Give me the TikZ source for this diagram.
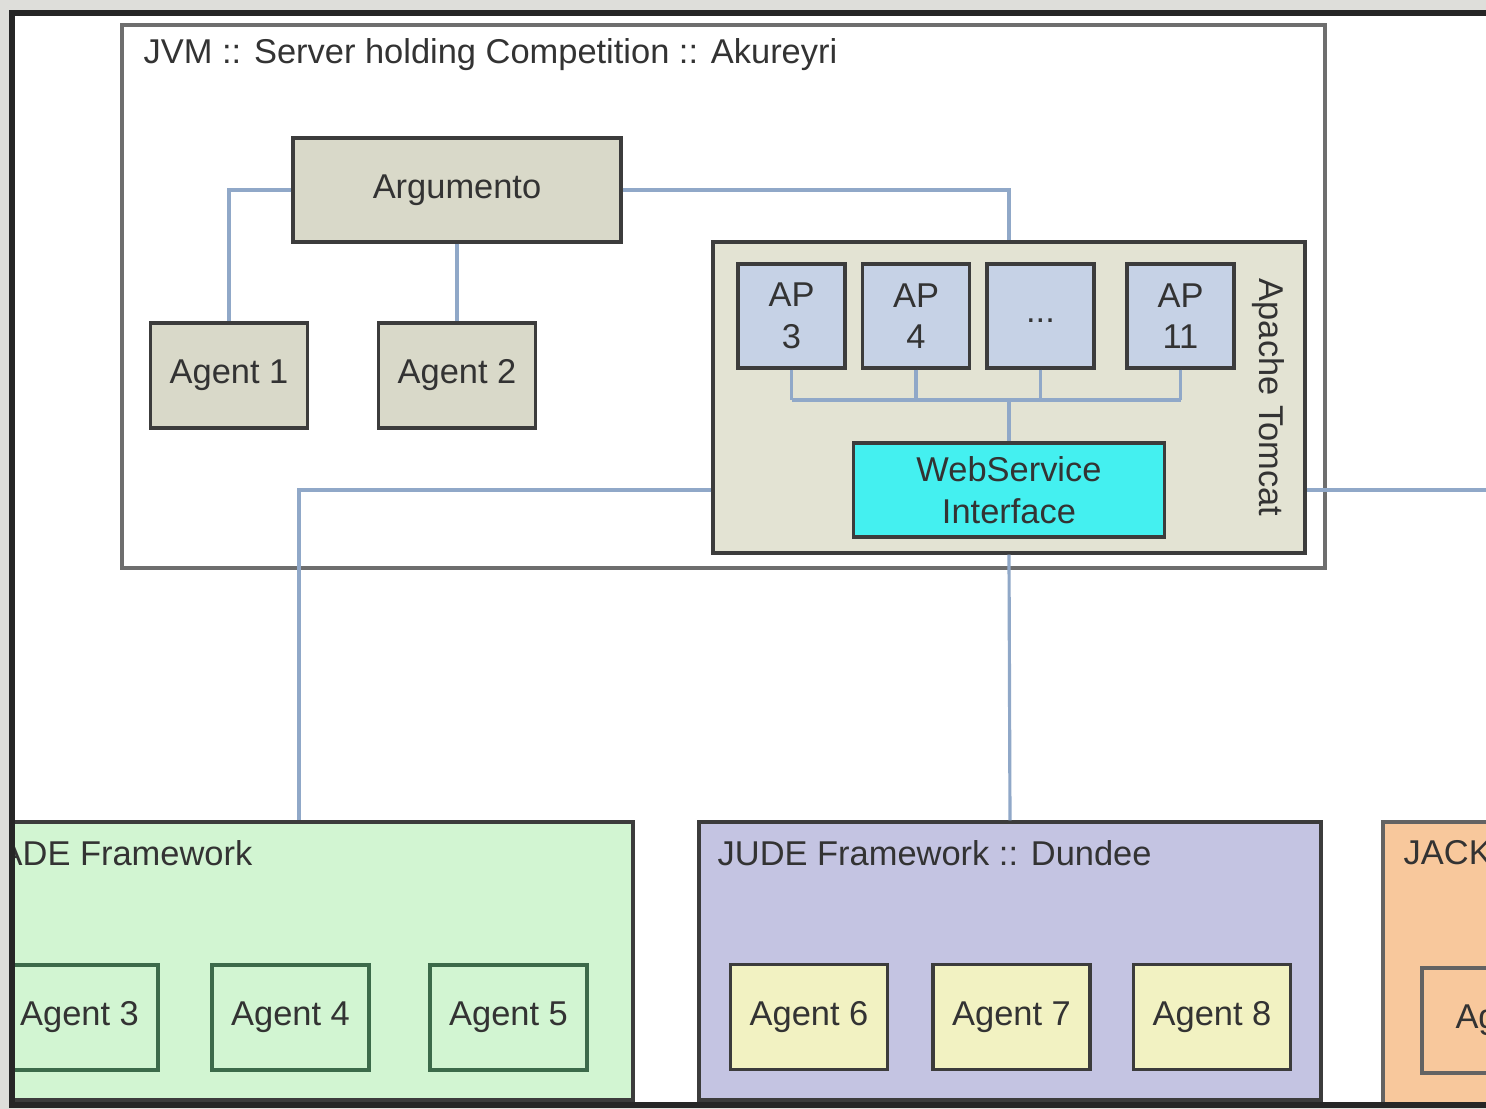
\documentclass[tikz,border=0pt]{standalone}
\usepackage{fontspec}
\setmainfont{Liberation Sans}
\usepackage{xcolor}
\usetikzlibrary{calc}

\definecolor{framegrey}{HTML}{DEDEDA}
\definecolor{textgrey}{HTML}{333333}
\definecolor{boxline}{HTML}{3C3C3C}
\definecolor{jvmline}{HTML}{6E6E6E}
\definecolor{argfill}{HTML}{D9D9C9}
\definecolor{tomfill}{HTML}{E3E3D3}
\definecolor{apblue}{HTML}{C6D2E6}
\definecolor{wscyan}{HTML}{44F0F0}
\definecolor{linkblue}{HTML}{90A8C8}
\definecolor{jadegreen}{HTML}{D2F5D2}
\definecolor{jadeline}{HTML}{3C6A4A}
\definecolor{judeblue}{HTML}{C4C4E2}
\definecolor{judeyellow}{HTML}{F2F2C2}
\definecolor{jackorange}{HTML}{F8C89C}

\begin{document}
\begin{tikzpicture}[font=\fontsize{9.8}{11.8}\selectfont,
  box/.style={draw=boxline, line width=0.9pt, inner sep=0pt, align=center, text=textgrey},
  agentbox/.style={box, minimum width=1.57cm, minimum height=1.05cm},
  apbox/.style={box, fill=apblue, minimum width=1.07cm, minimum height=1.04cm},
  area/.style={draw=boxline, line width=0.9pt, inner sep=0pt},
  title/.style={inner sep=0pt, text=textgrey},
  link/.style={draw=linkblue, line width=0.9pt}]
\useasboundingbox (0,0) rectangle (14.86,11.09);
\fill[framegrey] (0,0) rectangle (14.86,11.09);
\fill[white] (0.12,0.04) rectangle (14.86,10.96);
\begin{scope}
\clip (0.12,0.04) rectangle (14.86,10.96);
\node[area, draw=jvmline, fill=white, minimum width=12.03cm, minimum height=5.43cm] (jvm) at (7.235,8.125) {};
\node[title, anchor=west] (jvmtitle) at (1.43,10.54) {JVM :: Server holding Competition :: Akureyri};
\node[box, fill=argfill, minimum width=3.28cm, minimum height=1.04cm] (arg) at (4.57,9.19) {Argumento};
\node[agentbox, fill=argfill] (a1) at (2.29,7.335) {Agent 1};
\node[agentbox, fill=argfill] (a2) at (4.57,7.335) {Agent 2};
\node[area, fill=tomfill, minimum width=5.92cm, minimum height=3.11cm] (tomcat) at (10.09,7.115) {};
\node[title, rotate=-90] (tomtitle) at (12.68,7.115) {Apache Tomcat};
\foreach \x/\name/\label in {7.915/ap3/{AP\\3}, 9.16/ap4/{AP\\4}, 10.405/apd/{\raisebox{-0.7ex}{...}}, 11.805/ap11/{AP\\11}}
  \node[apbox] (\name) at (\x,7.93) {\label};
\node[box, fill=wscyan, minimum width=3.11cm, minimum height=0.94cm] (ws) at (10.09,6.19) {WebService\\Interface};
\coordinate (bus) at (10.09,7.09);

\node[area, fill=jadegreen, minimum width=6.68cm, minimum height=2.78cm] (jade) at (2.99,1.48) {};
\node[title, anchor=east] (jadetitle) at (2.53,2.56) {JADE Framework};
\foreach \x/\n in {0.795/3, 2.905/4, 5.085/5}
  \node[agentbox, draw=jadeline, fill=jadegreen] (a\n) at (\x,0.915) {Agent \n};

\node[area, fill=judeblue, minimum width=6.22cm, minimum height=2.78cm] (jude) at (10.10,1.48) {};
\node[title, anchor=west] (judetitle) at (7.17,2.56) {JUDE Framework :: Dundee};
\foreach \x/\n in {8.09/6, 10.115/7, 12.12/8}
  \node[agentbox, fill=judeyellow] (a\n) at (\x,0.92) {Agent \n};

\node[area, draw=boxline!80, fill=jackorange, minimum width=1.77cm, minimum height=2.83cm] (jack) at (14.715,1.455) {};
\node[title, anchor=west] (jacktitle) at (14.03,2.56) {JACK};
\node[agentbox, draw=boxline!80, fill=jackorange] (a9) at (15.005,0.885) {Agent};
\coordinate (outright) at (15.2,6.19);

\draw[link] (arg.west) -| (a1.north);
\draw[link] (arg.south) -- (a2.north);
\draw[link] (arg.east) -| (tomcat.north);
\foreach \n in {ap3,ap4,apd,ap11}
  \draw[link] (\n.south) -- (\n.south |- bus);
\draw[link] (ap3.south |- bus) -- (ap11.south |- bus);
\draw[link] (bus) -- (ws.north);
\draw[link] (tomcat.west |- ws.center) -| (jade.north);
\draw[link] (tomcat.south) -- (jude.north);
\draw[link] (tomcat.east |- ws.center) -- (outright);
\end{scope}
\draw[line width=1.6pt, black!85] (14.86,10.96) -- (0.12,10.96) -- (0.12,0.04) -- (14.86,0.04);
\end{tikzpicture}
\end{document}
